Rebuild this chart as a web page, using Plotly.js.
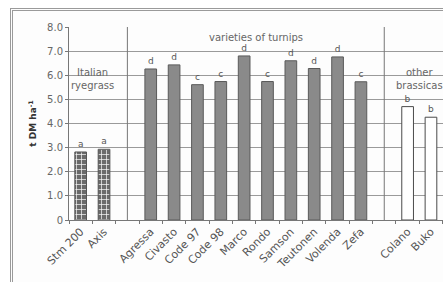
<!DOCTYPE html>
<html>
<head>
<meta charset="utf-8">
<script src="https://cdn.plot.ly/plotly-3.0.1.min.js"></script>
<style>
  html, body { margin: 0; padding: 0; width: 443px; height: 282px; overflow: hidden; background: #ffffff; }
  #frame { position: absolute; left: 10px; top: 8px; width: 600px; height: 400px; border: 3px double #9a9a9a; background: #fdfdfd; }
  #chart { position: absolute; left: 0; top: 0; }
</style>
</head>
<body>
<div id="frame"></div>
<div id="chart"></div>
<script>
// Categories (blank slots separate the groups)
const categories = ['Stm 200', 'Axis', ' ', 'Agressa', 'Civasto', 'Code 97', 'Code 98', 'Marco', 'Rondo', 'Samson', 'Teutonen', 'Volenda', 'Zefa', '  ', 'Colano', 'Buko'];
// Dry matter yield, t DM ha-1
const yieldValues = [2.82, 2.93, null, 6.26, 6.43, 5.61, 5.74, 6.80, 5.74, 6.60, 6.28, 6.76, 5.73, null, 4.70, 4.26];
// Significance letters
const letters = ['a', 'a', '', 'd', 'd', 'c', 'c', 'd', 'c', 'd', 'd', 'd', 'c', '', 'b', 'b'];
// Group of each category
const groups = ['rye', 'rye', '', 'turnip', 'turnip', 'turnip', 'turnip', 'turnip', 'turnip', 'turnip', 'turnip', 'turnip', 'turnip', '', 'other', 'other'];
// Group labels
const groupLabels = ['Italian<br>ryegrass', 'varieties of turnips', 'other<br>brassicas'];
const groupLabelPos = [0.5, 7.5, 14.5];
const groupLabelY = [5.85, 7.55, 5.85];
// Separators at the blank slots
const separators = [2, 13];
// Y ticks
const yTickVals = [0, 1, 2, 3, 4, 5, 6, 7, 8];
const yTickText = ['0', '1.0', '2.0', '3.0', '4.0', '5.0', '6.0', '7.0', '8.0'];

const FONT = 'DejaVu Sans, Verdana, sans-serif';
const fillFor = {rye: '#6a6a6a', turnip: '#8a8a8a', other: '#ffffff', '': '#ffffff'};
const lineFor = {rye: '#555555', turnip: '#5a5a5a', other: '#4a4a4a', '': '#ffffff'};
const patFor = {rye: '+', turnip: '', other: '', '': ''};

const trace = {
  type: 'bar',
  x: categories,
  y: yieldValues,
  width: 0.5,
  text: letters,
  textposition: 'outside',
  cliponaxis: false,
  textfont: {family: FONT, size: 9, color: '#555'},
  marker: {
    color: groups.map(g => fillFor[g]),
    line: {color: groups.map(g => lineFor[g]), width: 1},
    pattern: {
      shape: groups.map(g => patFor[g]),
      fillmode: 'overlay',
      fgcolor: '#dddddd', fgopacity: 1, size: 5, solidity: 0.25
    }
  },
  hoverinfo: 'none'
};

const shapes = separators.map(s => ({
  type: 'line', xref: 'x', yref: 'y', x0: s, x1: s, y0: 0, y1: 8,
  line: {color: '#777', width: 1}
}));

const annotations = groupLabels.map((t, i) => ({
  text: t, x: groupLabelPos[i], y: groupLabelY[i], xref: 'x', yref: 'y',
  showarrow: false, font: {family: FONT, size: 10, color: '#666'}
}));

const layout = {
  width: 486, height: 300,
  margin: {l: 69, r: 20, t: 27, b: 80},
  paper_bgcolor: 'rgba(0,0,0,0)',
  plot_bgcolor: 'rgba(0,0,0,0)',
  showlegend: false,
  font: {family: FONT, size: 10, color: '#555'},
  xaxis: {
    type: 'category', range: [-0.5, 16.5], tickangle: -45, tickson: 'boundaries',
    ticks: 'outside', ticklen: 3, tickcolor: '#777',
    showline: true, linecolor: '#777', linewidth: 1, showgrid: false,
    tickfont: {family: FONT, size: 11, color: '#555'}, fixedrange: true
  },
  yaxis: {
    range: [0, 8], tickvals: yTickVals, ticktext: yTickText,
    ticks: 'outside', ticklen: 3, tickcolor: '#777',
    showline: true, linecolor: '#777', linewidth: 1,
    showgrid: true, gridcolor: '#9a9a9a', gridwidth: 1, zeroline: false,
    tickfont: {family: FONT, size: 10, color: '#666'},
    title: {text: '<b>t DM ha<sup>-1</sup></b>', font: {family: FONT, size: 9, color: '#333'}, standoff: 8},
    fixedrange: true
  },
  bargap: 0.5,
  shapes: shapes,
  annotations: annotations
};

Plotly.newPlot('chart', [trace], layout, {displayModeBar: false, staticPlot: true});
</script>
</body>
</html>
